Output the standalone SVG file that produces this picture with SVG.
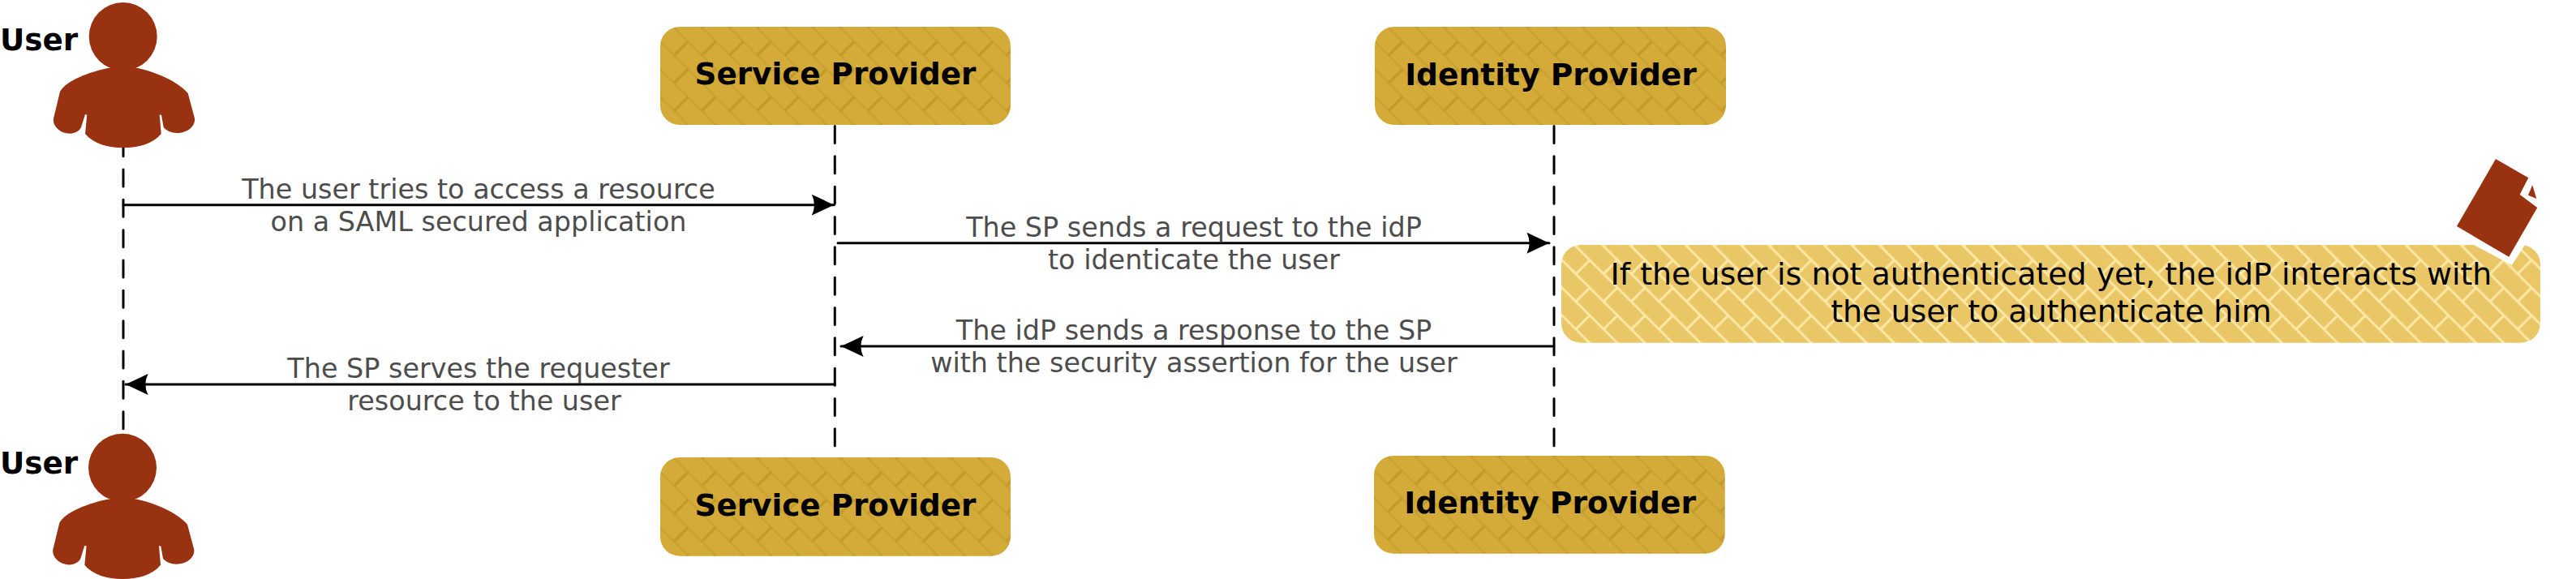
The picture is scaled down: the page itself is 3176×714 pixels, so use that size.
<svg xmlns="http://www.w3.org/2000/svg" xmlns:xlink="http://www.w3.org/1999/xlink" width="3176" height="714" viewBox="0 0 3176 714">
<style>
text{font-family:"DejaVu Sans",Verdana,sans-serif;text-anchor:middle}
.name{font-size:37.3px;font-weight:bold;fill:#000}
.idp{font-size:37.6px}
.msg{font-size:33.4px;fill:#4d4d4d}
.note{font-size:37.9px;fill:#000}
.life{stroke:#000;stroke-width:3;stroke-linecap:round;stroke-dasharray:21 16.33;fill:none}
.arr{stroke:#000;stroke-width:3;stroke-linecap:round;fill:none;marker-end:url(#head)}
.actor{fill:#993210}
</style>
<defs>
<marker id="head" markerUnits="userSpaceOnUse" markerWidth="30" markerHeight="30" refX="27.600" refY="13" orient="auto"><path d="M0 0L27.600 13L0 26Q6.500 13 0 0Z" fill="#000"/></marker>
<pattern id="brickA" width="48.3" height="48.3" patternUnits="userSpaceOnUse" patternTransform="translate(34.2 1.1) rotate(45)">
<rect width="48.3" height="48.3" fill="#d4ab38"/>
<path d="M0 12.075H48.3M0 36.225H48.3" stroke="#c8a232" stroke-width="2.6" fill="none"/>
<path d="M12.075 12.075V36.225M36.225 36.225V48.3M36.225 0V12.075" stroke="#c19a2b" stroke-width="3.4" fill="none"/>
</pattern>
<pattern id="brickB" width="48.3" height="48.3" patternUnits="userSpaceOnUse" patternTransform="translate(35 1.6) rotate(45)">
<rect width="48.3" height="48.3" fill="#e9c767"/>
<path d="M0 12.075H48.3M0 36.225H48.3M12.075 12.075V36.225M36.225 36.225V48.3M36.225 0V12.075" stroke="#fde8a5" stroke-width="3" fill="none"/>
</pattern>
<g id="person" class="actor">
<circle cx="151.7" cy="45" r="42"/>
<path d="M133 84C110 89 82 99 74 113L66 146C64.500 156 75 164.700 86 164.700C93 164.700 98 161 100 157L105 141L107.300 141.700L105 165C115 177 133 182.300 151.700 182.300C171 182.300 189 177 198.700 165L196.700 141.500L199 141.700L201.700 157C205 161 211 164 218.300 164C231 164 241 156 240 146L231.700 115C222 103 197 90 170 84Z"/>
</g>
</defs>
<g id="connectors">
<path class="life" d="M152 171.700V532"/>
<path class="life" d="M1029.300 155.500V552"/>
<path class="life" d="M1916 155.500V552"/>
<path class="arr" d="M152 252.700H1028.300"/>
<path class="arr" d="M1033 299.700H1910"/>
<path class="arr" d="M1914 427H1037"/>
<path class="arr" d="M1029 474H155"/>
</g>
<g id="user-top"><use xlink:href="#person" href="#person"/><text class="name" x="48" y="62">User</text></g>
<g id="user-bottom"><use xlink:href="#person" href="#person" transform="translate(-0.7 531.7)"/><text class="name" x="48" y="584">User</text></g>
<g id="sp-top" transform="translate(814 33)"><rect width="432" height="121" rx="24" fill="url(#brickA)"/><text class="name" x="216" y="71">Service Provider</text></g>
<g id="idp-top" transform="translate(1695 33)"><rect width="433" height="121" rx="24" fill="url(#brickA)"/><text class="name idp" x="217" y="71.700">Identity Provider</text></g>
<g id="sp-bottom" transform="translate(814 564)"><rect width="432" height="121.700" rx="24" fill="url(#brickA)"/><text class="name" x="216" y="72">Service Provider</text></g>
<g id="idp-bottom" transform="translate(1694 562)"><rect width="432.700" height="120.700" rx="24" fill="url(#brickA)"/><text class="name idp" x="217.200" y="70.700">Identity Provider</text></g>
<g id="note">
<g transform="translate(1925 302)"><rect width="1207" height="120.700" rx="24" fill="url(#brickB)"/></g>
<text class="note" x="2529" y="350.700">If the user is not authenticated yet, the idP interacts with</text>
<text class="note" x="2529" y="397">the user to authenticate him</text>
<path d="M3050 302L3097 327L3113 302Z" fill="#fff"/>
<path d="M3077 196L3029 279L3093.300 316.700L3128.300 256L3106.700 240L3117.300 219.300Z" fill="#993210"/>
<path d="M3122.300 228.300L3117 240.700L3127.300 245Z" fill="#993210"/>
</g>
<g id="labels">
<text class="msg" x="590" y="245">The user tries to access a resource</text>
<text class="msg" x="590" y="285">on a SAML secured application</text>
<text class="msg" x="1472" y="292">The SP sends a request to the idP</text>
<text class="msg" x="1472" y="332">to identicate the user</text>
<text class="msg" x="1472" y="419">The idP sends a response to the SP</text>
<text class="msg" x="1472" y="459">with the security assertion for the user</text>
<text class="msg" x="590" y="466">The SP serves the requester</text>
<text class="msg" x="597" y="506">resource to the user</text>
</g>
</svg>
